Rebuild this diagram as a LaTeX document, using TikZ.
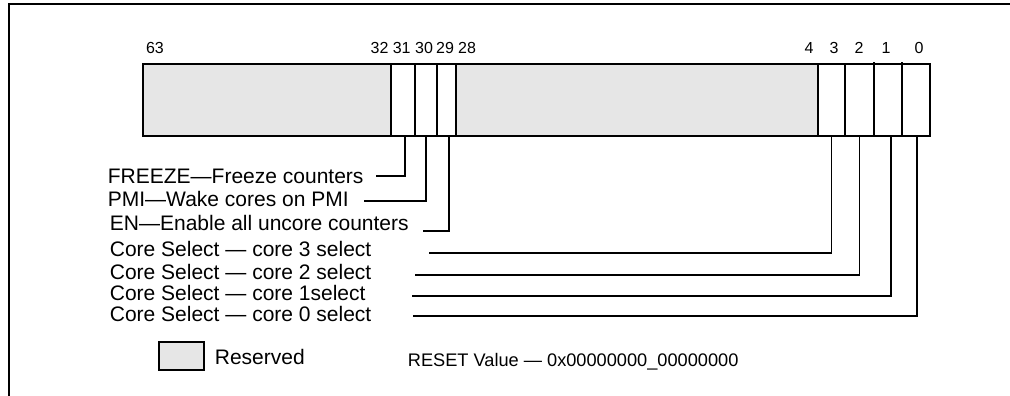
\documentclass[tikz,border=0pt]{standalone}
\usepackage{fontspec}
\setmainfont{Liberation Sans}
\definecolor{resv}{RGB}{230,230,230}
\begin{document}
\begin{tikzpicture}[x=1pt,y=-1pt,
  line width=1.8pt,
  cell/.style={draw, anchor=north west, minimum height=72pt, inner sep=0pt, outer sep=0pt},
  resvcell/.style={cell, fill=resv},
  bitlbl/.style={font=\fontsize{16}{18}\selectfont, anchor=base, inner sep=0pt},
  desc/.style={font=\fontsize{21}{24}\selectfont, anchor=base west, inner sep=0pt},
  conn/.style={line width=1.8pt}]
\useasboundingbox (0,0) rectangle (1010,396);
% frame
\draw (1010,4) -- (9,4) -- (9,396);
% register cells
\node[resvcell, minimum width=248pt] (r1) at (143,64) {};
\node[cell, minimum width=24pt] (b31) at (391,64) {};
\node[cell, minimum width=22pt] (b30) at (415,64) {};
\node[cell, minimum width=19pt] (b29) at (437,64) {};
\node[resvcell, minimum width=362pt] (r2) at (456,64) {};
\node[cell, minimum width=27pt] (b3) at (818,64) {};
\node[cell, minimum width=29pt] (b2) at (845,64) {};
\node[cell, minimum width=28pt] (b1) at (874,64) {};
\node[cell, minimum width=28pt] (b0) at (902,64) {};
\draw (b1.north west) -- ++(0,-2);
\draw (b0.north west) -- ++(0,-2);
% bit labels
\node[bitlbl] (l63) at (155,54) {63};
\node[bitlbl] (l32) at (379.5,54) {32};
\node[bitlbl] (l31) at (401.7,54) {31};
\node[bitlbl] (l30) at (424,54) {30};
\node[bitlbl] (l29) at (445,54) {29};
\node[bitlbl] (l28) at (467,54) {28};
\node[bitlbl] (l4) at (809,54) {4};
\node[bitlbl] (l3) at (834,54) {3};
\node[bitlbl] (l2) at (859,54) {2};
\node[bitlbl] (l1) at (886,54) {1};
\node[bitlbl] (l0) at (919,54) {0};
% descriptions
\node[desc] (tFz) at (107,183) {FREEZE—Freeze counters};
\node[desc] (tPmi) at (107,206) {PMI—Wake cores on PMI};
\node[desc] (tEn) at (109,230.5) {EN—Enable all uncore counters};
\node[desc] (tC3) at (109,256.7) {Core Select — core 3 select};
\node[desc] (tC2) at (109,279) {Core Select — core 2 select};
\node[desc] (tC1) at (109,300.5) {Core Select — core 1select};
\node[desc] (tC0) at (109,321.7) {Core Select — core 0 select};
% connector ends
\coordinate (cFz) at (376,176);
\coordinate (cPmi) at (364,201);
\coordinate (cEn) at (423,231);
\coordinate (cC3) at (429,253);
\coordinate (cC2) at (415,275);
\coordinate (cC1) at (412,296);
\coordinate (cC0) at (413,316);
\draw[conn] ([xshift=2pt]b31.south) |- (cFz);
\draw[conn] (b30.south) |- (cPmi);
\draw[conn] ([xshift=2.5pt]b29.south) |- (cEn);
\draw[conn] (b3.south) |- (cC3);
\draw[conn] (b2.south) |- (cC2);
\draw[conn] ([xshift=3pt]b1.south) |- (cC1);
\draw[conn] ([xshift=1pt]b0.south) |- (cC0);
% legend
\node[resvcell, minimum width=45pt, minimum height=28pt] (leg) at (159,342) {};
\node[desc] (legt) at (214,364) {Reserved};
\node[font=\fontsize{18.2}{20}\selectfont, anchor=base west, inner sep=0pt] (reset) at (407,366) {RESET Value — 0x00000000\_00000000};
\end{tikzpicture}
\end{document}
